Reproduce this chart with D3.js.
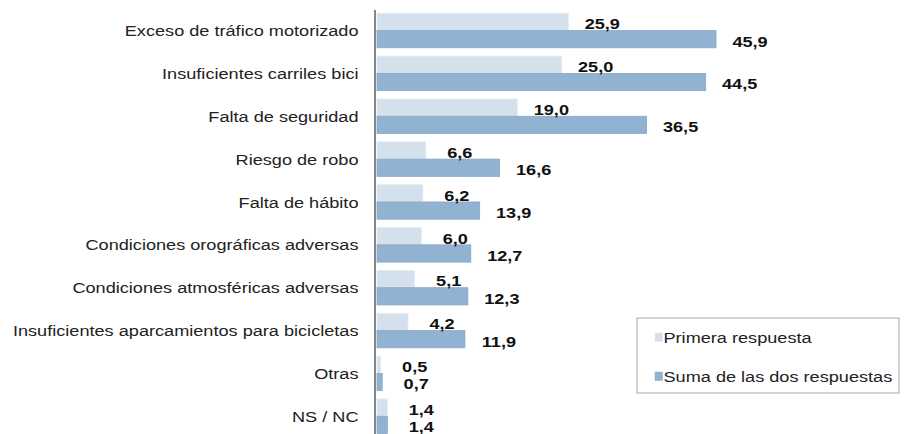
<!DOCTYPE html>
<html><head><meta charset="utf-8">
<script src="https://cdn.jsdelivr.net/npm/d3@7"></script>
<style>body{margin:0;background:#fff;overflow:hidden}</style>
</head><body><svg id="c" width="904" height="434"></svg>
<script>
const categories = ["Exceso de tráfico motorizado","Insuficientes carriles bici","Falta de seguridad","Riesgo de robo","Falta de hábito","Condiciones orográficas adversas","Condiciones atmosféricas adversas","Insuficientes aparcamientos para bicicletas","Otras","NS / NC"];
const primera = [25.9,25.0,19.0,6.6,6.2,6.0,5.1,4.2,0.5,1.4];
const suma = [45.9,44.5,36.5,16.6,13.9,12.7,12.3,11.9,0.7,1.4];
const seriesNames = ["Primera respuesta","Suma de las dos respuestas"];
const colors = ["#d4e1ed","#92b2d1"];
const strokes = ["#e2ebf3","#86a8c9"];

const svg = d3.select("#c");
const font = "'Liberation Sans', Arial, sans-serif";
const FS = 15.5, SX = 1.17;
const x = d3.scaleLinear().domain([0, 50]).range([377, 377 + 50*7.386]);
const y = d3.scaleBand().domain(categories).range([9.1, 437.7]).paddingInner(0.195).paddingOuter(0.0975);
const sub = d3.scaleBand().domain([0,1]).range([0, y.bandwidth()]);

const data = [primera, suma];
const fmt = v => d3.format(".1f")(v).replace(".", ",");

function txt(g, tx, ty, s, anchor, opts = {}) {
  return g.append("text")
    .attr("transform", `translate(${tx},${ty}) scale(${SX},1)`)
    .attr("text-anchor", anchor)
    .attr("font-family", font).attr("font-size", FS)
    .attr("font-weight", opts.bold ? "bold" : "normal")
    .attr("fill", opts.fill || "#1a1a1a")
    .text(s);
}

data.forEach((arr, s) => {
  svg.append("g").selectAll("rect").data(categories).join("rect")
    .attr("x", x(0))
    .attr("y", c => y(c) + sub(s))
    .attr("width", (c,i) => x(arr[i]) - x(0))
    .attr("height", sub.bandwidth())
    .attr("fill", colors[s])
    .attr("stroke", strokes[s]).attr("stroke-width", 0.8);
});
data.forEach((arr, s) => {
  const g = svg.append("g");
  categories.forEach((c, i) => {
    const cy = y(c) + sub(s) + sub.bandwidth()/2;
    txt(g, x(arr[i]) + 34, cy + 1.8 + 0.358*FS, fmt(arr[i]), "middle", {bold: true, fill: "#111"});
  });
});

// category labels
const cg = svg.append("g");
categories.forEach(c => {
  txt(cg, 358.5, y(c) + y.bandwidth()/2 + 0.358*FS, c, "end", {fill: "#222"});
});
svg.append("line").attr("x1", 375).attr("x2", 375).attr("y1", 10).attr("y2", 434)
  .attr("stroke", "#868686").attr("stroke-width", 2);

// legend
const lg = svg.append("g");
lg.append("rect").attr("x", 637).attr("y", 318).attr("width", 262).attr("height", 75)
  .attr("fill", "#fff").attr("stroke", "#aaa").attr("stroke-width", 1);
seriesNames.forEach((n, i) => {
  const cy = 337 + i*39;
  lg.append("rect").attr("x", 655).attr("y", cy - 4).attr("width", 7.5).attr("height", 8.5)
    .attr("fill", colors[i]).attr("stroke", strokes[i]).attr("stroke-width", 0.5);
  txt(lg, 663.5, cy + 0.358*FS, n, "start", {fill: "#222"});
});
</script></body></html>
